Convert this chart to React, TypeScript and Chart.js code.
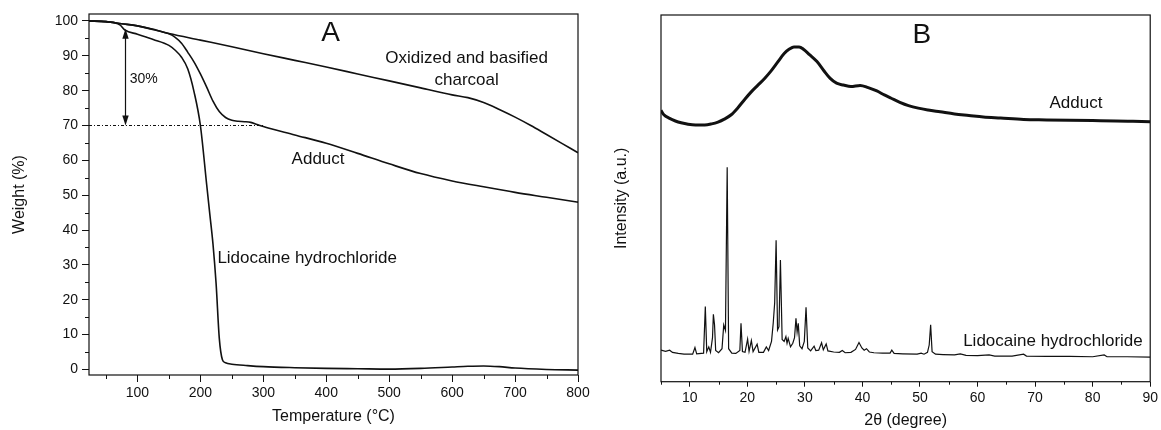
import { useEffect, useRef } from 'react';
import { Chart, registerables } from 'chart.js';

Chart.register(...registerables);

const FONT = "'Liberation Sans', Arial, Helvetica, sans-serif";
const INK = '#111';

// ---------------- Panel A : TGA ----------------
const A_X_TICKS = [100, 200, 300, 400, 500, 600, 700, 800];
const A_X_MINOR = [50, 150, 250, 350, 450, 550, 650, 750];
const A_Y_TICKS = [0, 10, 20, 30, 40, 50, 60, 70, 80, 90, 100];
const A_Y_MINOR = [5, 15, 25, 35, 45, 55, 65, 75, 85, 95];

const CHARCOAL_T = [23, 50, 75, 100, 150, 200, 250, 300, 350, 400, 450, 500, 550, 600, 625, 650, 675, 700, 725, 750, 775, 800];
const CHARCOAL_W = [100, 99.8, 99.2, 98.6, 96.4, 94.5, 92.6, 90.6, 88.7, 86.8, 84.8, 82.8, 80.8, 78.8, 78.0, 76.6, 74.6, 72.4, 70.0, 67.4, 64.8, 62.2];

const ADDUCT_T = [23, 50, 75, 100, 125, 150, 160, 170, 180, 190, 200, 210, 220, 230, 240, 250, 260, 270, 280, 290, 300, 350, 400, 450, 500, 550, 600, 650, 700, 750, 800];
const ADDUCT_W = [100, 99.8, 99.2, 98.6, 97.6, 96.3, 95.3, 93.6, 91.0, 88.2, 84.8, 81.0, 77.0, 74.0, 72.3, 71.5, 71.2, 71.1, 70.9, 70.3, 69.7, 67.3, 64.9, 62.0, 59.0, 56.2, 54.1, 52.4, 50.8, 49.4, 48.0];

const LIDO_T = [23, 50, 72, 80, 100, 125, 150, 160, 170, 180, 190, 200, 210, 215, 220, 225, 230, 235, 240, 250, 275, 300, 350, 400, 450, 500, 550, 600, 625, 650, 675, 700, 750, 800];
const LIDO_W = [100, 99.8, 98.9, 97.4, 96.2, 94.7, 93.0, 91.6, 89.6, 86.2, 79.6, 70.0, 53.0, 44.5, 36.0, 24.5, 9.0, 2.8, 1.9, 1.5, 1.1, 0.8, 0.5, 0.3, 0.2, 0.1, 0.3, 0.7, 0.9, 1.0, 0.8, 0.4, 0.0, -0.2];

const REF_LINE_T = [23, 300];
const REF_LINE_W = [70, 70];
const ARROW_A = { x: 81, from: 97.8, to: 70 };

const LABELS_A = [
  { text: 'A', x: 407, y: 96.6, size: 28 },
  { text: '30%', x: 110, y: 83.4, size: 14 },
  { text: 'Oxidized and basified', x: 623, y: 89.3, size: 17 },
  { text: 'charcoal', x: 623, y: 83.1, size: 17 },
  { text: 'Adduct', x: 387, y: 60.4, size: 17 },
  { text: 'Lidocaine hydrochloride', x: 227, y: 32.0, size: 17, align: 'left' },
];

// ---------------- Panel B : XRD ----------------
const B_X_TICKS = [10, 20, 30, 40, 50, 60, 70, 80, 90];
const B_X_MINOR = [5, 15, 25, 35, 45, 55, 65, 75, 85];

const XRD_ADDUCT_2T = [5.0, 5.5, 6.5, 7.5, 8.5, 9.7, 11.0, 12.6, 13.8, 14.9, 16.0, 17.2, 18.3, 19.5, 20.6, 21.8, 23.0, 24.1, 25.2, 26.4, 27.3, 28.1, 29.0, 29.8, 30.8, 32.1, 33.3, 34.4, 35.5, 36.7, 38.0, 39.6, 41.0, 42.5, 43.8, 45.0, 46.5, 48.0, 49.7, 51.4, 53.5, 56.0, 58.5, 61.0, 64.0, 68.0, 72.0, 76.0, 80.0, 84.0, 87.0, 90.0];
const XRD_ADDUCT_I = [74.0, 72.8, 71.8, 71.1, 70.6, 70.2, 70.0, 70.0, 70.3, 70.8, 71.6, 72.8, 74.6, 76.9, 78.9, 80.8, 82.7, 84.7, 87.0, 89.5, 90.7, 91.3, 91.3, 90.6, 89.2, 87.3, 84.8, 82.7, 81.4, 80.9, 80.5, 80.8, 80.2, 79.3, 78.2, 77.3, 76.2, 75.3, 74.6, 74.1, 73.6, 73.0, 72.6, 72.2, 71.9, 71.5, 71.4, 71.3, 71.2, 71.1, 71.0, 70.9];

const XRD_LIDO_2T = [5.0, 5.8, 6.5, 7.0, 8.0, 9.0, 10.5, 10.9, 11.2, 12.4, 12.7, 12.95, 13.3, 13.6, 13.95, 14.1, 14.3, 14.5, 15.0, 15.6, 15.9, 16.2, 16.5, 16.75, 17.3, 18.0, 18.7, 18.9, 19.15, 19.6, 20.05, 20.3, 20.7, 21.0, 21.7, 22.0, 22.8, 23.3, 23.7, 24.2, 24.5, 24.75, 25.0, 25.25, 25.5, 25.75, 26.05, 26.4, 26.7, 26.9, 27.1, 27.5, 27.9, 28.2, 28.45, 28.65, 28.85, 29.1, 29.5, 29.9, 30.2, 30.5, 31.0, 31.6, 31.9, 32.4, 32.9, 33.2, 33.7, 34.0, 35.0, 36.0, 36.5, 37.0, 38.0, 38.8, 39.4, 39.9, 40.3, 40.7, 41.2, 42.0, 43.5, 44.8, 45.1, 45.5, 47.0, 49.5, 50.2, 50.7, 51.3, 51.6, 51.85, 52.1, 52.7, 54.0, 56.0, 57.0, 58.0, 60.0, 62.0, 63.0, 66.0, 68.0, 68.5, 72.0, 76.0, 80.0, 82.0, 82.5, 86.0, 90.0];
const XRD_LIDO_I = [8.6, 8.3, 8.6, 8.0, 7.7, 7.5, 7.5, 9.3, 7.6, 7.8, 20.5, 8.2, 9.5, 8.0, 12.0, 18.4, 15.5, 8.5, 7.9, 9.0, 15.5, 14.0, 58.5, 9.0, 7.8, 7.7, 8.5, 15.9, 8.2, 8.0, 11.6, 8.3, 11.2, 8.2, 10.2, 8.0, 8.0, 9.5, 8.5, 11.0, 16.0, 21.5, 38.6, 14.1, 15.0, 33.2, 11.5, 11.0, 12.3, 10.5, 11.8, 9.5, 10.5, 12.0, 17.3, 13.5, 15.9, 9.8, 9.0, 11.0, 20.3, 9.2, 8.4, 9.7, 8.5, 8.6, 10.6, 8.7, 10.3, 8.4, 8.1, 8.0, 8.5, 7.9, 8.0, 8.8, 10.7, 9.2, 8.6, 9.0, 8.1, 7.9, 7.8, 7.8, 8.6, 7.7, 7.6, 7.5, 7.8, 7.5, 8.0, 10.0, 15.5, 8.2, 7.5, 7.4, 7.3, 7.6, 7.2, 7.1, 7.3, 7.0, 7.0, 7.5, 7.0, 6.9, 6.9, 6.8, 7.3, 6.8, 6.8, 6.7];

const LABELS_B = [
  { text: 'B', x: 50.3, y: 94.5, size: 28 },
  { text: 'Adduct', x: 77.1, y: 75.9, size: 17 },
  { text: 'Lidocaine hydrochloride', x: 73.1, y: 11.1, size: 17 },
];

const pts = (xs: number[], ys: number[]) => xs.map((x, i) => ({ x, y: ys[i] }));

type Label = { text: string; x: number; y: number; size: number; align?: CanvasTextAlign };
type OverlayOpts = {
  minorX: number[];
  minorY: number[];
  minorLen: number;
  labels: Label[];
  arrow?: { x: number; from: number; to: number };
};

function overlay(o: OverlayOpts) {
  return {
    id: 'overlay',
    afterDatasetsDraw(chart: any) {
      const { ctx, chartArea, scales } = chart;
      const { left, top, right, bottom } = chartArea;
      ctx.save();
      ctx.strokeStyle = INK;
      ctx.fillStyle = INK;
      ctx.lineWidth = 1.2;
      ctx.strokeRect(left, top, right - left, bottom - top);
      ctx.beginPath();
      for (const v of o.minorX) {
        const px = Math.round(scales.x.getPixelForValue(v)) + 0.5;
        ctx.moveTo(px, bottom);
        ctx.lineTo(px, bottom + o.minorLen);
      }
      for (const v of o.minorY) {
        const py = Math.round(scales.y.getPixelForValue(v)) + 0.5;
        ctx.moveTo(left, py);
        ctx.lineTo(left - o.minorLen, py);
      }
      ctx.lineWidth = 1;
      ctx.stroke();
      if (o.arrow) {
        const ax = scales.x.getPixelForValue(o.arrow.x);
        const y1 = scales.y.getPixelForValue(o.arrow.from);
        const y2 = scales.y.getPixelForValue(o.arrow.to);
        ctx.beginPath();
        ctx.moveTo(ax, y1 + 4);
        ctx.lineTo(ax, y2 - 4);
        ctx.lineWidth = 1.2;
        ctx.stroke();
        ctx.beginPath();
        ctx.moveTo(ax, y1);
        ctx.lineTo(ax - 3.2, y1 + 10);
        ctx.lineTo(ax + 3.2, y1 + 10);
        ctx.closePath();
        ctx.fill();
        ctx.beginPath();
        ctx.moveTo(ax, y2);
        ctx.lineTo(ax - 3.2, y2 - 10);
        ctx.lineTo(ax + 3.2, y2 - 10);
        ctx.closePath();
        ctx.fill();
      }
      ctx.textBaseline = 'middle';
      for (const l of o.labels) {
        ctx.font = `${l.size}px ${FONT}`;
        ctx.textAlign = l.align ?? 'center';
        ctx.fillText(l.text, scales.x.getPixelForValue(l.x), scales.y.getPixelForValue(l.y));
      }
      ctx.restore();
    },
  };
}

const tickFont = { family: FONT, size: 14 };
const titleFont = { family: FONT, size: 16 };

function buildA(canvas: HTMLCanvasElement) {
  return new Chart(canvas, {
    type: 'line',
    data: {
      datasets: [
        { data: pts(CHARCOAL_T, CHARCOAL_W), borderColor: INK, borderWidth: 1.6, pointRadius: 0, cubicInterpolationMode: 'monotone' },
        { data: pts(ADDUCT_T, ADDUCT_W), borderColor: INK, borderWidth: 1.6, pointRadius: 0, cubicInterpolationMode: 'monotone' },
        { data: pts(LIDO_T, LIDO_W), borderColor: INK, borderWidth: 1.6, pointRadius: 0, cubicInterpolationMode: 'monotone' },
        { data: pts(REF_LINE_T, REF_LINE_W), borderColor: INK, borderWidth: 1, borderDash: [3, 2, 1, 2], pointRadius: 0 },
      ],
    } as any,
    options: {
      animation: false,
      responsive: false,
      devicePixelRatio: 1,
      events: [],
      layout: { padding: { top: 14, right: 22, left: 0, bottom: 0 } },
      plugins: { legend: { display: false }, tooltip: { enabled: false } },
      scales: {
        x: {
          type: 'linear',
          min: 23,
          max: 800,
          afterBuildTicks: (s: any) => { s.ticks = A_X_TICKS.map((value) => ({ value })); },
          afterFit: (s: any) => { s.height = 55; },
          grid: { display: true, drawOnChartArea: false, drawTicks: true, tickLength: 7, color: INK, lineWidth: 1 },
          border: { display: false },
          ticks: { color: INK, font: tickFont, padding: 3, maxRotation: 0, autoSkip: false },
          title: { display: true, text: 'Temperature (°C)', color: INK, font: titleFont, padding: { top: 0, bottom: 3.7 } },
        },
        y: {
          type: 'linear',
          min: -1.6,
          max: 102,
          afterBuildTicks: (s: any) => { s.ticks = A_Y_TICKS.map((value) => ({ value })); },
          afterFit: (s: any) => { s.width = 89; },
          grid: { display: true, drawOnChartArea: false, drawTicks: true, tickLength: 7, color: INK, lineWidth: 1 },
          border: { display: false },
          ticks: { color: INK, font: tickFont, padding: 4, autoSkip: false },
          title: { display: true, text: 'Weight (%)', color: INK, font: titleFont, padding: { top: 10.4, bottom: 0 } },
        },
      },
    } as any,
    plugins: [overlay({ minorX: A_X_MINOR, minorY: A_Y_MINOR, minorLen: 4, labels: LABELS_A as Label[], arrow: ARROW_A })],
  });
}

function buildB(canvas: HTMLCanvasElement) {
  return new Chart(canvas, {
    type: 'line',
    data: {
      datasets: [
        { data: pts(XRD_ADDUCT_2T, XRD_ADDUCT_I), borderColor: INK, borderWidth: 3, pointRadius: 0, cubicInterpolationMode: 'monotone' },
        { data: pts(XRD_LIDO_2T, XRD_LIDO_I), borderColor: INK, borderWidth: 1.2, pointRadius: 0, tension: 0 },
      ],
    } as any,
    options: {
      animation: false,
      responsive: false,
      devicePixelRatio: 1,
      events: [],
      layout: { padding: { top: 15, right: 7, left: 0, bottom: 0 } },
      plugins: { legend: { display: false }, tooltip: { enabled: false } },
      scales: {
        x: {
          type: 'linear',
          min: 5,
          max: 90,
          afterBuildTicks: (s: any) => { s.ticks = B_X_TICKS.map((value) => ({ value })); },
          afterFit: (s: any) => { s.height = 48.3; },
          grid: { display: true, drawOnChartArea: false, drawTicks: true, tickLength: 5, color: INK, lineWidth: 1 },
          border: { display: false },
          ticks: { color: INK, font: tickFont, padding: 3, maxRotation: 0, autoSkip: false },
          title: { display: true, text: '2θ (degree)', color: INK, font: titleFont, padding: { top: 0, bottom: 0 } },
        },
        y: {
          type: 'linear',
          min: 0,
          max: 100,
          afterFit: (s: any) => { s.width = 61; },
          grid: { display: false },
          border: { display: false },
          ticks: { display: false },
          title: { display: true, text: 'Intensity (a.u.)', color: INK, font: titleFont, padding: { top: 12.1, bottom: 0 } },
        },
      },
    } as any,
    plugins: [overlay({ minorX: B_X_MINOR, minorY: [], minorLen: 3, labels: LABELS_B as Label[] })],
  });
}

export default function App() {
  const refA = useRef<HTMLCanvasElement>(null);
  const refB = useRef<HTMLCanvasElement>(null);

  useEffect(() => {
    const a = buildA(refA.current!);
    const b = buildB(refB.current!);
    return () => {
      a.destroy();
      b.destroy();
    };
  }, []);

  return (
    <div style={{ position: 'fixed', left: 0, top: 0, width: 1161, height: 430, background: '#fff' }}>
      <canvas ref={refA} width={600} height={430} style={{ position: 'absolute', left: 0, top: 0, width: 600, height: 430 }} />
      <canvas ref={refB} width={561} height={430} style={{ position: 'absolute', left: 600, top: 0, width: 561, height: 430 }} />
    </div>
  );
}
